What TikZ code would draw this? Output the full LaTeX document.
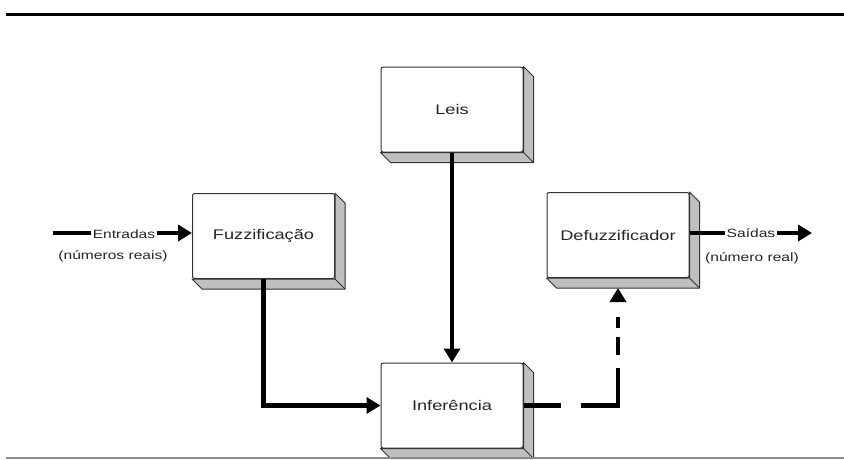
\documentclass[tikz,border=0pt]{standalone}
\usepackage{graphicx}
\usepackage{fontspec}
\setmainfont{Liberation Sans}
\usetikzlibrary{arrows.meta}
\newcommand\wide[1]{\scalebox{1.3}[1]{#1}}
\newcommand\boxside[1]{%
  \filldraw[side] (#1.north east) -- ([shift={(10,10)}]#1.north east) -- ([shift={(10,10)}]#1.south east) -- ([shift={(10,10)}]#1.south west) -- (#1.south west) -- (#1.south east) -- cycle;
  \draw[side] (#1.south east) -- ([shift={(10,10)}]#1.south east);}
\begin{document}
\begin{tikzpicture}[x=1pt,y=-1pt,
  box3d/.style={draw=black!80, line width=1pt, fill=white, rounded corners=2pt,
    minimum width=142pt, minimum height=85pt, inner sep=0pt, text=black!85,
    font=\fontsize{14}{16}\selectfont},
  side/.style={fill=black!25, draw=black!80, line width=1pt, line join=round},
  conn/.style={line width=4.5pt, -{Triangle[length=14pt,width=16pt]}},
  lbl/.style={font=\fontsize{12}{14}\selectfont, inner sep=1.5pt, text=black!85}]
\useasboundingbox (0,0) rectangle (844,459);
% rules
\coordinate (tl) at (6,14);
\coordinate (tr) at (844,14);
\draw[line width=3pt] (tl) -- (tr);
\coordinate (bl) at (6,458);
\coordinate (br) at (844,458);
% boxes
\node[box3d] (leis) at (452,109.5) {\wide{Leis}};
\node[box3d] (fuzz) at (263.5,236) {\wide{Fuzzificação}};
\node[box3d] (defuzz) at (618,235) {\wide{Defuzzificador}};
\node[box3d] (infer) at (452,405.5) {\wide{Inferência}};
\boxside{leis}
\boxside{fuzz}
\boxside{defuzz}
\boxside{infer}
\draw[black!45, line width=1.2pt] (bl) -- (br);
% connectors
\draw[conn] (leis.south) -- (infer.north);
\draw[conn] (fuzz.south) |- (infer.west);
\draw[conn, dash pattern=on 37pt off 20pt on 75pt off 13pt on 18pt off 9pt on 11pt off 40pt]
  (infer.east) -| ([yshift=-10pt]defuzz.south);
% input
\coordinate (in) at (53,233);
\draw[conn] (in) -- (in -| fuzz.west);
\node[lbl, fill=white] (entradas) at (124,234) {\wide{Entradas}};
\node[lbl] (reais) at (113,256) {\wide{(números reais)}};
% output
\coordinate (out) at (812,233);
\draw[conn] (defuzz.east |- out) -- (out);
\node[lbl, fill=white] (saidas) at (751,233) {\wide{Saídas}};
\node[lbl] (real) at (752,258) {\wide{(número real)}};
\end{tikzpicture}
\end{document}
